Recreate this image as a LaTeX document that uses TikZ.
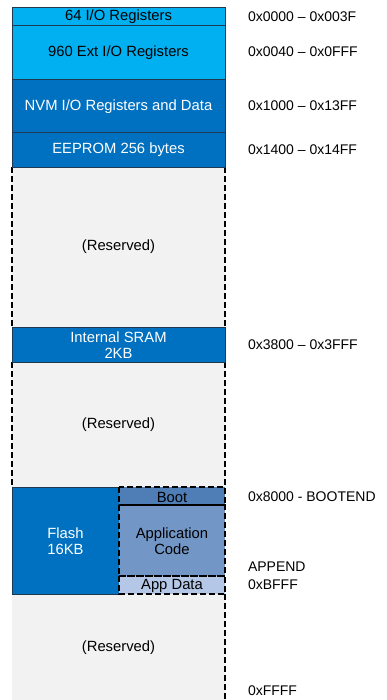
\documentclass[tikz,border=0pt]{standalone}
\usepackage{fontspec}
\setmainfont{Liberation Sans}
\begin{document}
\begin{tikzpicture}[x=1pt,y=-1pt,
  lblue/.style={fill=cLight,draw=cEdge,line width=0.8pt},
  dblue/.style={fill=cDark,draw=cEdge,line width=0.8pt},
  dashline/.style={draw=black,line width=1.2pt,dash pattern=on 6pt off 3pt},
  wtxt/.style={text=white,font=\fontsize{14.8}{16}\selectfont,align=center},
  btxt/.style={text=black,font=\fontsize{14.8}{16}\selectfont,align=center},
  atxt/.style={text=black,font=\fontsize{14}{16.5}\selectfont,anchor=west,align=left}]
\definecolor{cLight}{HTML}{00B0F0}
\definecolor{cDark}{HTML}{0070C0}
\definecolor{cEdge}{HTML}{1F3A50}
\definecolor{cGray}{HTML}{F2F2F2}
\definecolor{cBoot}{HTML}{4F7DB5}
\definecolor{cApp}{HTML}{7296C6}
\definecolor{cData}{HTML}{B4C7E7}
\useasboundingbox (0,0) rectangle (387,700);
% reserved areas
\fill[cGray] (12,167) rectangle (225,327);
\fill[cGray] (12,362) rectangle (225,487);
\fill[cGray] (12,594) rectangle (225,700);
\draw[dashline] (12,167) -- (12,327);
\draw[dashline] (225,167) -- (225,327);
\draw[dashline] (12,362) -- (12,487);
\draw[dashline] (225,362) -- (225,487);
\draw[dashline] (225,594) -- (225,700);
% solid boxes
\draw[lblue] (12,7) rectangle (225,25);
\draw[lblue] (12,25) rectangle (225,79);
\draw[dblue] (12,79) rectangle (225,132);
\draw[dblue] (12,132) rectangle (225,167);
\draw[dblue] (12,327) rectangle (225,362);
\draw[dblue] (12,487) rectangle (119,594);
% flash partitions
\fill[cBoot] (119,487) rectangle (225,505);
\fill[cApp] (119,505) rectangle (225,576);
\fill[cData] (119,576) rectangle (225,594);
\draw[dashline] (119,487) rectangle (225,505);
\draw[dashline] (119,505) rectangle (225,576);
\draw[dashline] (119,576) rectangle (225,594);
% labels
\node[btxt] (io) at (118.5,17) {64 I/O Registers};
\node[btxt] (ext) at (118.5,53) {960 Ext I/O Registers};
\node[wtxt] (nvm) at (118.5,106.5) {NVM I/O Registers and Data};
\node[wtxt] (eep) at (118.5,150) {EEPROM 256 bytes};
\node[btxt] (r1) at (118.5,247) {(Reserved)};
\node[wtxt] (sram) at (118.5,345.5) {Internal SRAM\\2KB};
\node[btxt] (r2) at (118.5,425) {(Reserved)};
\node[wtxt] (flash) at (65.5,541) {Flash\\16KB};
\node[btxt] (boot) at (172,497) {Boot};
\node[btxt] (app) at (172,541.5) {Application\\Code};
\node[btxt] (adata) at (172,586) {App Data};
\node[btxt] (r3) at (118.5,648) {(Reserved)};
% addresses
\node[atxt] (a1) at (244.5,17) {0x0000 – 0x003F};
\node[atxt] (a2) at (244.5,52) {0x0040 – 0x0FFF};
\node[atxt] (a3) at (244.5,106) {0x1000 – 0x13FF};
\node[atxt] (a4) at (244.5,150) {0x1400 – 0x14FF};
\node[atxt] (a5) at (244.5,345) {0x3800 – 0x3FFF};
\node[atxt] (a6) at (244.5,497) {0x8000 - BOOTEND};
\node[atxt] (a7) at (244.5,567) {APPEND};
\node[atxt] (a8) at (244.5,585) {0xBFFF};
\node[atxt] (a9) at (244.5,691) {0xFFFF};
\end{tikzpicture}
\end{document}
